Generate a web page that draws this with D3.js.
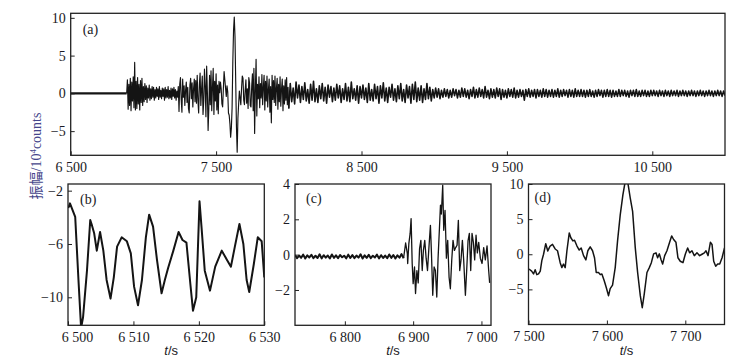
<!DOCTYPE html>
<html>
<head>
<meta charset="utf-8">
<script src="https://cdn.jsdelivr.net/npm/d3@7"></script>
<style>
  body { margin: 0; background: #fff; }
  svg { display: block; }
  .tick text { font-family: "Liberation Serif", "Times New Roman", serif; font-size: 14px; fill: #1a1a24; }
  .tick line { stroke: #222; stroke-width: 1; }
</style>
</head>
<body>
<div id="chart"></div>
<script>
// ---- panel (a): whole record ----
var aPreTimes = [6500, 6885];
var aPreValues = [0, 0];
var aSeg1Start = 6885, aSeg1Step = 5;
var aSeg1Values = [
  0, 1.8, -2.1, 1.2, -1.6, 2.0, -2.3, 1.5, -1.0, 2.2,
  -1.9, 4.1, -2.2, 1.6, -2.0, 2.1, -1.4, 1.2, -2.2, 1.7,
  -1.2, 2.0, -1.6, 0.9, -1.1, 1.3, -0.8, 1.0, -1.2, 0.7,
  -0.6, 1.1, -0.9, 0.6, -0.7, 0.9, -0.5, 0.8, -0.9, 0.5,
  -0.6, 0.8, -0.4, 0.6, -0.8, 0.9, -0.5, 0.4, -0.7, 0.7,
  -0.4, 0.6, -0.9, 0.8, -0.6, 0.5, -0.5, 0.9, -0.7, 0.4,
  -0.6, 0.7, -0.8, 0.6, -0.4, 0.8, -0.6, 0.5, -0.9, 0.3,
  -0.5, 0.9, -2.4, 1.2, 2.1, -0.8, -2.5, 1.9, -0.5, 1.0,
  -1.6, 0.4, 1.5, -1.2, 0.8, -2.0, -2.6, 1.1, 2.0, -0.7,
  1.4, -1.8, 0.6, 1.9, -1.1, 1.7, -1.3, 2.4, -0.9, -2.6,
  1.2, 2.7, -1.6, 0.5, 2.3, -2.8, -1.0, 3.2, 1.0, -3.1,
  3.6, 0.2, -4.9, -2.0, 2.4, -1.5, 3.0, -2.3, 0.8, 3.3,
  -2.8, 1.6, -1.0, 2.6, -2.2, 1.1, -2.7, 1.6, 0.1, 1.5,
  0.6, -1.4, -1.8, 0.6, 2.9, 1.8, 0.7, -0.4, 1.0, 0.2,
  -2.6, -2.9, -4.0, -5.8, -4.6, -1.9, 4.2, 8.4, 10.1, 7.5,
  1.5, -4.5, -7.8, -3.3, -1.4, 0.3, -0.6, -1.5, 0.6, 2.3,
  2.0, -0.9, -1.5, 0.4, 1.8, -1.3, 0.6, -2.0, 2.1, 1.4,
  -1.6, -1.8, 1.0, 2.6, -2.3, 3.3, -5.3, 0.4, 4.5, -3.0,
  1.2, -0.7, 2.2, -1.9, 1.3, -0.6, 2.5, -1.5, 0.8, 2.4,
  -2.2, 1.6, -1.0, 2.3, -1.8, 0.5, 1.9, -2.5, 0.9, -3.9,
  2.4, -0.8, 1.7, -1.2, 2.3, -1.6, 0.7, 2.0, -2.1, 1.2,
  -1.1, 2.2, -1.7, 0.6, 1.9, -2.3, 1.0, -1.4, 1.8, -0.9,
  2.1, -1.5, 0.8, -2.0
];
var aSeg2Start = 8010, aSeg2Step = 10;
var aSeg2Values = [
  1.3, -1.1, 0.7, -1.4, 1.5, -0.6, 1.1, -1.2, 0.9, -0.8,
  1.4, -1.0, 0.5, -1.3, 1.2, -0.9, 1.6, -1.1, 0.6, -1.2,
  1.0, -0.7, 1.3, -1.0, 0.8, -1.3, 1.1, -0.5, 0.9, -1.1,
  0.7, -0.9, 1.2, -0.6, 1.0, -1.2, 0.6, -0.8, 1.3, -1.0,
  0.8, -1.1, 1.5, -0.7, 0.6, -0.9, 1.0, -1.3, 0.9, -0.6,
  1.1, -0.8, 0.7, -1.2, 1.3, -0.9, 0.5, -1.0, 1.2, -0.7,
  0.9, -1.3, 1.0, -0.6, 1.4, -1.0, 0.7, -1.2, 0.8, -0.5,
  1.2, -0.9, 0.6, -1.1, 1.0, -0.7, 1.3, -1.0, 0.5, -1.2,
  1.1, -0.6, 0.9, -1.3, 1.2, -0.8, 1.5, -1.1, 0.7, -0.9,
  1.0, -1.2, 0.6, -0.8, 1.3, -0.7, 0.8, -1.0, 0.5, -0.6,
  0.7, -0.5, 0.6, -0.7, 0.4, -0.5, 0.6, -0.4, 0.5, -0.6,
  0.4, -0.5, 0.6, -0.3, 0.5, -0.6, 0.4, -0.5, 0.7, -0.4,
  0.6, -0.5, 0.4, -0.7, 0.5, -0.4, 0.8, -0.6, 0.5, -0.5,
  0.7, -0.4, 0.5, -0.6, 0.9, -0.5, 0.4, -0.7, 0.6, -0.5,
  0.5, -0.6, 0.7, -0.4, 0.6, -0.8, 0.5, -0.5, 0.4, -0.6,
  0.6, -0.4, 0.5, -0.5, 0.7, -0.6, 0.4, -0.5, 0.5, -0.4,
  0.4, -0.9, 0.5, -0.4, 0.6, -0.5, 0.4, -0.4, 0.5, -0.6,
  0.5, -0.4, 0.4, -0.5, 0.6, -0.4, 0.5, -0.5, 0.4, -0.4,
  0.5, -0.5, 0.4, -0.4, 0.6, -0.5, 0.4, -0.4, 0.5, -0.3,
  0.4, -0.5, 0.5, -0.4, 0.4, -0.5, 0.6, -0.4, 0.4, -0.4,
  0.5, -0.4, 0.4, -0.5, 0.4, -0.4, 0.5, -0.4, 0.3, -0.5,
  0.4, -0.4, 0.5, -0.3, 0.4, -0.5, 0.4, -0.4, 0.5, -0.4,
  0.4, -0.5, 0.4, -0.4, 0.3, -0.4, 0.5, -0.4, 0.4, -0.3,
  0.4, -0.4, 0.3, -0.5, 0.4, -0.3, 0.4, -0.4, 0.5, -0.4,
  0.3, -0.4, 0.4, -0.3, 0.4, -0.4, 0.3, -0.4, 0.4, -0.3,
  0.4, -0.3, 0.3, -0.4, 0.4, -0.3, 0.3, -0.4, 0.4, -0.3,
  0.3, -0.4, 0.4, -0.3, 0.3, -0.3, 0.4, -0.4, 0.3, -0.3,
  0.4, -0.3, 0.3, -0.4, 0.3, -0.3, 0.4, -0.3, 0.3, -0.4,
  0.3, -0.3, 0.4, -0.3, 0.3, -0.4, 0.3, -0.3, 0.4, -0.3,
  0.3, -0.4, 0.3, -0.3, 0.4, -0.3, 0.3, -0.4, 0.3, -0.3
];
var aTicksX = [6500, 7500, 8500, 9500, 10500];
var aTicksY = [-5, 0, 5, 10];

// ---- panel (b): 6500-6530 s ----
var bTimes = [6500.05, 6500.3, 6501.1, 6501.6, 6502.0, 6502.3, 6502.9, 6503.4, 6503.6, 6504.0,
  6504.4, 6504.9, 6505.4, 6505.9, 6506.5, 6507.0, 6507.5, 6508.2, 6509.0, 6509.6,
  6510.1, 6510.7, 6511.3, 6511.9, 6512.4, 6513.0, 6513.6, 6514.3, 6514.8, 6515.3,
  6516.1, 6516.9, 6517.5, 6518.1, 6518.7, 6519.1, 6519.6, 6520.1, 6520.4, 6520.9,
  6521.7, 6522.5, 6523.5, 6524.3, 6524.9, 6525.5, 6526.2, 6526.8, 6527.3, 6527.7,
  6528.4, 6529.0, 6529.6, 6530.0];
var bValues = [-3.3, -2.95, -3.96, -8.7, -12.3, -11.5, -8.0, -4.2, -4.5, -5.2,
  -6.5, -5.1, -6.5, -8.7, -10.1, -8.5, -6.2, -5.5, -5.8, -6.7,
  -9.2, -10.6, -8.7, -5.5, -3.8, -4.7, -7.2, -9.7, -8.7, -7.8,
  -6.5, -5.1, -5.7, -5.9, -9.0, -11.0, -10.0, -2.8, -4.7, -8.0,
  -9.5, -7.7, -6.5, -7.2, -7.7, -6.2, -4.5, -6.0, -8.7, -9.6,
  -7.5, -5.5, -5.8, -8.5];
var bTicksX = [6500, 6510, 6520, 6530];
var bTicksY = [-10, -6, -2];

// ---- panel (c): onset ----
var cFlatStart = 6727, cFlatStep = 3;
var cFlatValues = [-0.02, -0.2, -0.05, -0.18, 0.0, -0.22, -0.04, -0.16, -0.01, -0.2,
  -0.06, -0.19, 0.02, -0.21, -0.03, -0.17, -0.05, -0.22, 0.01, -0.18,
  -0.04, -0.2, -0.02, -0.15, -0.06, -0.21, 0.0, -0.19, -0.03, -0.2,
  -0.05, -0.17, 0.02, -0.22, -0.04, -0.18, -0.01, -0.2, -0.06, -0.16,
  0.0, -0.21, -0.03, -0.19, -0.05, -0.2, 0.01, -0.18, -0.02, -0.22,
  -0.04, -0.17, 0.03, -0.2];
var cBurstTimes = [6889, 6891.5, 6892, 6893.7, 6895.6, 6897, 6898.6, 6900, 6902, 6903.5,
  6905.5, 6907.4, 6909.4, 6911.3, 6913.3, 6915, 6917, 6919, 6921, 6923,
  6925.3, 6926.8, 6928.7, 6930.7, 6932.6, 6934.6, 6936.5, 6938.5, 6940, 6941.3,
  6943.3, 6944.8, 6946.7, 6948.7, 6950.6, 6952.6, 6954.5, 6956.5, 6958.4, 6960.4,
  6962.3, 6964.3, 6966.2, 6968.2, 6970.1, 6972.1, 6974, 6976.5, 6978.4, 6980.4,
  6982.3, 6984.3, 6986.2, 6988.2, 6990.1, 6992.1, 6994, 6996, 6998.4, 7000.9,
  7003.3, 7005.7, 7008.2, 7010.6, 7012];
var cBurstValues = [0.66, 0.06, -0.5, 0.62, 1.2, 2.04, -0.5, -1.64, -0.7, -2.2,
  -0.9, -1.6, 0.34, 0.81, -0.9, 0.24, 0.81, -0.2, -0.9, 0.34,
  1.66, 0.1, -2.3, -0.7, -0.9, -2.4, -0.2, 1.5, 2.8, 2.3,
  3.93, 1.38, 2.5, -0.2, 0.81, -1.27, -1.93, -0.32, 0.81, 0.24,
  0.4, 0.53, 1.94, -0.9, -0.3, 0.81, -0.3, -2.3, -0.9, 0.8,
  1.2, -0.9, 1.2, 0.7, -0.3, 1.1, 0.1, 0.7, -0.2, -0.5,
  0.4, -0.3, 0.5, -0.9, -1.6];
var cTicksX = [6800, 6900, 7000];
var cTicksY = [-2, 0, 2, 4];

// ---- panel (d): main phase ----
var dTimes = [7500.6, 7504, 7506.4, 7508.5, 7510.6, 7512.8, 7515, 7517, 7519.2, 7522,
  7524.6, 7527.6, 7530.6, 7534, 7537, 7540.4, 7542.5, 7544.6, 7546.8, 7549,
  7552, 7554, 7556.6, 7558.7, 7561.7, 7564.7, 7567.2, 7570.2, 7573.2, 7575.7,
  7578.7, 7581.7, 7584.2, 7586.4, 7589.3, 7591.5, 7593.6, 7596.6, 7599.1, 7602.1,
  7604.2, 7607.2, 7610.6, 7613.6, 7617, 7620.4, 7623.4, 7626.4, 7629.8, 7632.8,
  7636.2, 7639.2, 7642.6, 7645.1, 7647.7, 7651.1, 7654.1, 7656.7, 7659.6, 7662.6,
  7664.7, 7666.9, 7669, 7671.1, 7673.7, 7676.6, 7680, 7682.6, 7685.1, 7688.1,
  7690.6, 7693.6, 7697, 7700, 7703, 7705.5, 7708.5, 7711.5, 7714.9, 7718.3,
  7721.3, 7724.3, 7726.4, 7729, 7732, 7734.1, 7736.2, 7738.8, 7741.3, 7743.9,
  7746.9, 7750];
var dValues = [-2.1, -2.4, -2.8, -2.2, -2.9, -2.8, -2.4, -0.9, 0, 1.5,
  0.47, 1.17, 1.4, 0.75, 0.5, -1.2, -1.9, -1.4, -1.9, 0.5,
  3.04, 2.35, 1.9, 2.0, 1.2, 0.6, 0.9, -0.2, -0.8, 0.5,
  1.05, 0.5, -0.5, -2.6, -2.6, -2.9, -2.8, -3.76, -4.7, -5.9,
  -4.9, -4.4, -1.9, 1.9, 5.6, 8.45, 10.4, 10.4, 8.0, 6.1,
  0.9, -2.6, -5.9, -7.6, -5.6, -2.6, -1.9, -1.2, 0.05, 0.2,
  -0.5, 0.05, -0.75, -1.4, -0.2, 0.5, 1.7, 2.6, 2.1, 1.7,
  -0.5, -1.0, -1.2, 0, 0.9, 0.2, 0.5, -0.2, 0.2, -0.2,
  0, 0.2, 0.5, -0.2, 1.7, 1.4, -1.0, -1.7, -1.4, -1.4,
  -0.5, 0.9];
var dTicksX = [7500, 7600, 7700];
var dTicksY = [-5, 0, 5, 10];

// build point lists
function zipSeries(times, values) {
  return values.map(function (v, i) { return { t: times[i], v: v }; });
}
function stepSeries(start, step, values) {
  return values.map(function (v, i) { return { t: start + i * step, v: v }; });
}

var width = 747, height = 364;
var svg = d3.select('#chart').append('svg')
  .attr('width', width)
  .attr('height', height);

var fmt = function (d) { return d3.format(',')(d).replace(/,/g, ' '); };

function drawPanel(p, idx) {
  var x = d3.scaleLinear().domain(p.xDomain).range([p.left, p.right]);
  var y = d3.scaleLinear().domain(p.yDomain).range([p.bottom, p.top]);

  var clipId = 'clip' + idx;
  svg.append('clipPath').attr('id', clipId)
    .append('rect')
    .attr('x', p.left).attr('y', p.top)
    .attr('width', p.right - p.left).attr('height', p.bottom - p.top);

  var line = d3.line()
    .x(function (d) { return x(d.t); })
    .y(function (d) { return y(d.v); });

  var g = svg.append('g').attr('clip-path', 'url(#' + clipId + ')');
  p.series.forEach(function (s) {
    g.append('path')
      .datum(s.data)
      .attr('fill', 'none')
      .attr('stroke', '#141414')
      .attr('stroke-width', s.width)
      .attr('stroke-linejoin', 'round')
      .attr('d', line);
  });

  // inward ticks, labels outside
  var xAxis = svg.append('g')
    .attr('transform', 'translate(0,' + p.bottom + ')')
    .call(d3.axisBottom(x).tickValues(p.xTicks).tickFormat(fmt)
      .tickSizeInner(-4).tickSizeOuter(0).tickPadding(7));
  xAxis.select('.domain').remove();
  if (p.firstDx) {
    xAxis.selectAll('.tick text').filter(function (d, i) { return i === 0; })
      .attr('dx', p.firstDx);
  }

  var yAxis = svg.append('g')
    .attr('transform', 'translate(' + p.left + ',0)')
    .call(d3.axisLeft(y).tickValues(p.yTicks).tickFormat(fmt)
      .tickSizeInner(-4).tickSizeOuter(0).tickPadding(5));
  yAxis.select('.domain').remove();

  // frame
  svg.append('rect')
    .attr('x', p.left).attr('y', p.top)
    .attr('width', p.right - p.left).attr('height', p.bottom - p.top)
    .attr('fill', 'none')
    .attr('stroke', '#222')
    .attr('stroke-width', 1.3);

  // panel tag
  svg.append('text')
    .attr('x', p.left + p.tagDx)
    .attr('y', p.top + p.tagDy)
    .attr('font-family', '"Liberation Serif", serif')
    .attr('font-size', '14px')
    .attr('fill', '#1a1a24')
    .text(p.tag);

  if (p.tLabel) {
    var tl = svg.append('text')
      .attr('x', (p.left + p.right) / 2 + p.tLabelDx)
      .attr('y', 355)
      .attr('text-anchor', 'middle')
      .attr('font-family', '"Liberation Sans", Arial, sans-serif')
      .attr('font-size', '13px')
      .attr('fill', '#1a1a24');
    tl.append('tspan').attr('font-style', 'italic').text('t');
    tl.append('tspan').text('/s');
  }
}

var aSeg1 = stepSeries(aSeg1Start, aSeg1Step, aSeg1Values);
var aSeg2 = stepSeries(aSeg2Start, aSeg2Step, aSeg2Values);
var cFlat = stepSeries(cFlatStart, cFlatStep, cFlatValues);
var cBurst = zipSeries(cBurstTimes, cBurstValues);

var panels = [
  {
    tag: '(a)', left: 70.7, right: 725, top: 13.3, bottom: 155.3,
    xDomain: [6500, 11000], yDomain: [-8.2, 10.6],
    xTicks: aTicksX, yTicks: aTicksY, tagDx: 12, tagDy: 21,
    series: [
      { data: zipSeries(aPreTimes, aPreValues), width: 2.2 },
      { data: aSeg1, width: 1.15 },
      { data: [aSeg1[aSeg1.length - 1]].concat(aSeg2), width: 1.6 }
    ]
  },
  {
    tag: '(b)', left: 68, right: 264.3, top: 184, bottom: 325.3,
    xDomain: [6500, 6530], yDomain: [-12.1, -1.5],
    xTicks: bTicksX, yTicks: bTicksY, tagDx: 12, tagDy: 20, firstDx: 9,
    tLabel: true, tLabelDx: 5,
    series: [{ data: zipSeries(bTimes, bValues), width: 2 }]
  },
  {
    tag: '(c)', left: 295, right: 491, top: 184, bottom: 325.3,
    xDomain: [6727, 7014], yDomain: [-4, 4],
    xTicks: cTicksX, yTicks: cTicksY, tagDx: 11, tagDy: 19,
    tLabel: true, tLabelDx: 0,
    series: [
      { data: cFlat, width: 2 },
      { data: [cFlat[cFlat.length - 1]].concat(cBurst), width: 1.3 }
    ]
  },
  {
    tag: '(d)', left: 528.5, right: 724.5, top: 184, bottom: 324.5,
    xDomain: [7500, 7750], yDomain: [-10, 10],
    xTicks: dTicksX, yTicks: dTicksY, tagDx: 6, tagDy: 18,
    tLabel: true, tLabelDx: 0,
    series: [{ data: zipSeries(dTimes, dValues), width: 1.5 }]
  }
];

panels.forEach(drawPanel);

// shared y label
var yl = svg.append('text')
  .attr('transform', 'translate(41,156) rotate(-90)')
  .attr('text-anchor', 'middle')
  .attr('font-family', '"Liberation Serif", "Noto Sans CJK SC", serif')
  .attr('font-size', '14px')
  .attr('fill', '#45458a');
yl.append('tspan').text('振幅/10');
yl.append('tspan').attr('font-size', '9px').attr('dy', -5).text('4');
yl.append('tspan').attr('dy', 5).text('counts');
</script>
</body>
</html>
